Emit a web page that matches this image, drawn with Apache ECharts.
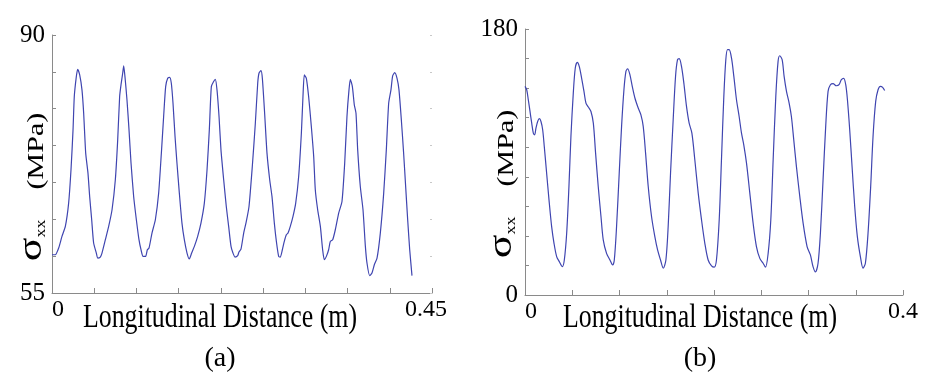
<!DOCTYPE html>
<html>
<head>
<meta charset="utf-8">
<script src="https://cdn.jsdelivr.net/npm/echarts@6/dist/echarts.min.js"></script>
<style>
  html, body { margin: 0; padding: 0; background: #fff; }
  #chart { width: 932px; height: 385px; }
</style>
</head>
<body>
<div id="chart"></div>
<script>
// panel (a): distance (m) and stress (MPa)
const xA = [0, .0039, .0079, .0118, .0158, .0197, .0225, .0249, .0264, .0288, .0304, .0328, .0355, .0375, .0399, .0426, .0446, .0470, .0493, .0525,
  .0541, .0572, .0592, .0632, .0671, .0711, .0750, .0778, .0801, .0817, .0837, .0849, .0864, .0888, .0912, .0936, .0967, .0999, .1030, .1054,
  .1078, .1109, .1129, .1149, .1184, .1224, .1263, .1295, .1322, .1346, .1370, .1393, .1413, .1433, .1457, .1480, .1508, .1539, .1567, .1599,
  .1626, .1654, .1686, .1725, .1764, .1804, .1836, .1863, .1887, .1914, .1934, .1954, .1978, .2001, .2033, .2064, .2092, .2120, .2143, .2167,
  .2199, .2214, .2238, .2270, .2301, .2333, .2372, .2408, .2436, .2451, .2475, .2491, .2518, .2546, .2578, .2605, .2633, .2657, .2684, .2704,
  .2728, .2751, .2775, .2795, .2822, .2854, .2886, .2921, .2953, .2972, .2988, .3012, .3039, .3071, .3099, .3118, .3146, .3178, .3205, .3225,
  .3249, .3276, .3296, .3324, .3355, .3395, .3434, .3466, .3493, .3517, .3533, .3557, .3580, .3600, .3620, .3651, .3683, .3711, .3730, .3762,
  .3789, .3817, .3849, .3888, .3928, .3959, .3987, .4014, .4034, .4058, .4086, .4109, .4137, .4164, .4188, .4212, .4236, .4263];
const yA = [60.19, 60.19, 61.10, 62.68, 64.03, 67.19, 71.71, 77.13, 81.65, 84.35, 85.35, 84.58, 82.55, 79.39, 73.97, 71.26, 68.10, 64.94, 61.78, 60.42,
  59.74, 59.88, 60.42, 62.23, 64.03, 66.29, 70.36, 75.77, 81.65, 83.23, 84.81, 85.80, 84.35, 81.19, 77.13, 72.61, 68.10, 64.94, 62.23, 60.87,
  59.97, 59.97, 60.87, 61.10, 63.13, 64.94, 68.55, 73.97, 78.94, 83.00, 84.13, 84.26, 83.45, 80.74, 76.23, 72.61, 68.55, 64.48, 62.23, 60.42,
  59.61, 60.42, 61.32, 62.68, 64.48, 67.19, 71.71, 77.13, 83.00, 83.68, 83.99, 82.55, 78.94, 74.42, 70.36, 66.74, 64.03, 61.32, 60.42, 59.88,
  60.06, 60.56, 60.96, 63.13, 64.71, 66.74, 72.16, 78.03, 83.45, 84.81, 85.17, 84.13, 79.39, 73.97, 70.36, 68.10, 64.48, 62.00, 59.97, 59.88,
  60.87, 62.00, 62.90, 63.13, 64.03, 65.39, 67.19, 70.81, 76.68, 81.65, 84.58, 84.13, 81.65, 77.58, 73.52, 69.00, 66.29, 64.03, 60.87, 59.52,
  59.97, 60.87, 62.00, 62.23, 63.58, 65.84, 67.42, 72.61, 78.94, 82.55, 83.99, 83.00, 80.52, 79.39, 74.42, 69.45, 66.29, 61.32, 59.07, 57.35,
  57.71, 58.84, 59.74, 63.13, 68.55, 74.42, 80.74, 82.55, 84.45, 84.90, 84.13, 82.55, 78.48, 73.97, 69.45, 64.94, 60.87, 57.35];

// panel (b)
const xB = [0, .0018, .0035, .0053, .0071, .0088, .0102, .0116, .0134, .0152, .0169, .0187, .0204, .0229, .0254, .0282, .0307, .0335, .0363, .0395,
  .0416, .0441, .0465, .0486, .0511, .0532, .0553, .0574, .0599, .0624, .0645, .0670, .0698, .0723, .0747, .0775, .0804, .0828, .0863, .0899,
  .0927, .0945, .0969, .0997, .1022, .1047, .1068, .1086, .1110, .1135, .1163, .1198, .1226, .1251, .1276, .1304, .1339, .1374, .1403, .1434,
  .1463, .1491, .1515, .1540, .1568, .1593, .1614, .1632, .1656, .1681, .1709, .1737, .1766, .1797, .1833, .1868, .1903, .1938, .1974, .2002,
  .2026, .2055, .2079, .2104, .2125, .2143, .2160, .2185, .2210, .2238, .2266, .2291, .2315, .2344, .2379, .2414, .2449, .2485, .2520, .2545,
  .2573, .2601, .2626, .2654, .2678, .2696, .2721, .2742, .2767, .2795, .2819, .2844, .2872, .2908, .2943, .2985, .3020, .3048, .3073, .3101,
  .3126, .3154, .3182, .3207, .3232, .3260, .3295, .3323, .3348, .3373, .3394, .3412, .3436, .3461, .3489, .3517, .3549, .3577, .3602, .3630,
  .3658, .3683, .3711, .3736, .3760, .3782, .3806];
const yB = [141.2, 138.9, 132.1, 124.2, 116.3, 109.5, 108.4, 112.9, 117.4, 119.3, 117.4, 111.8, 100.5, 82.4, 64.4, 46.3, 35.0, 26.0, 22.6, 19.2,
  23.7, 41.8, 73.4, 107.3, 136.6, 153.6, 157.4, 154.7, 146.8, 137.8, 129.9, 127.2, 124.2, 116.3, 96.0, 73.4, 53.1, 37.3, 28.2, 23.7,
  20.3, 23.7, 46.3, 82.4, 114.1, 138.9, 151.3, 153.1, 149.1, 141.2, 133.3, 126.5, 122.0, 114.1, 96.0, 73.4, 53.1, 39.5, 30.5, 23.7,
  18.1, 23.7, 46.3, 82.4, 118.6, 147.9, 159.2, 159.9, 154.7, 143.4, 127.6, 116.3, 109.5, 91.5, 68.9, 50.8, 35.0, 23.7, 19.7, 18.8,
  23.7, 50.8, 91.5, 134.4, 159.2, 166.0, 166.0, 160.4, 147.9, 132.1, 120.8, 109.5, 101.6, 89.2, 68.9, 48.6, 32.8, 24.8, 21.5, 18.8,
  28.2, 50.8, 91.5, 134.4, 158.1, 161.9, 159.2, 147.9, 137.8, 129.9, 120.8, 105.0, 87.0, 66.6, 48.6, 32.8, 27.1, 19.2, 15.6, 21.5,
  41.8, 77.9, 114.1, 137.8, 142.3, 143.0, 141.6, 142.3, 145.7, 146.6, 142.3, 132.1, 111.8, 87.0, 59.9, 39.5, 26.0, 18.1, 21.5, 41.8,
  73.4, 107.3, 131.0, 138.9, 141.2, 140.7, 138.4];

// axis ranges and the only tick labels shown
const yTicksA = [55, 90];
const xTicksA = [0, 0.45];
const yTicksB = [0, 180];
const xTicksB = [0, 0.4];
const panelNames = ['(a)', '(b)'];
const xTitle = 'Longitudinal Distance (m)';

const zip = (xs, ys) => xs.map((x, i) => [x, ys[i]]);
// only first and last tick get text
const edgeLabel = ticks => v => {
  for (const t of ticks) if (Math.abs(v - t) < 1e-6) return String(t);
  return '';
};

const axisGray = '#8a8a8a';
const lineBlue = '#3f45b0';
const serif = 'Liberation Serif';

function xAxisFor(gridIndex, ticks, endPad) {
  return {
    type: 'value', gridIndex,
    min: ticks[0], max: ticks[1], interval: 0.05,
    axisLine: { lineStyle: { color: axisGray, width: 1 } },
    axisTick: { inside: true, length: 5, lineStyle: { color: axisGray } },
    splitLine: { show: false },
    axisLabel: {
      formatter: edgeLabel(ticks), color: '#000', fontFamily: serif, fontSize: 24, margin: 5,
      showMaxLabel: true, alignMinLabel: 'left', padding: [0, endPad, 0, 0]
    }
  };
}

function yAxisFor(gridIndex, ticks, step) {
  return {
    type: 'value', gridIndex,
    min: ticks[0], max: ticks[1], interval: step,
    axisLine: { show: true, lineStyle: { color: axisGray, width: 1 } },
    axisTick: { show: true, inside: true, length: 4, lineStyle: { color: axisGray } },
    splitLine: { show: false },
    axisLabel: { formatter: edgeLabel(ticks), color: '#000', fontFamily: serif, fontSize: 25, margin: 7 }
  };
}

// the picture's lettering is a bit squeezed sideways, hence the scale
const yNameRich = {
  s: { fontSize: 44, fontFamily: serif, fill: '#000', verticalAlign: 'bottom' },
  sub: { fontSize: 18, fontFamily: serif, fill: '#000', verticalAlign: 'bottom' },
  n: { fontSize: 30, fontFamily: serif, fill: '#000', verticalAlign: 'bottom', padding: [0, 0, 0, 30] }
};
function yTitle(cx, cy) {
  return {
    type: 'text', x: cx, y: cy, rotation: Math.PI / 2, scaleY: 0.76,
    style: { text: '{s|σ}{sub|xx}{n|(MPa)}', rich: yNameRich, align: 'center', verticalAlign: 'middle' }
  };
}
function xTitleAt(cx, cy) {
  return {
    type: 'text', x: cx, y: cy, scaleX: 0.76,
    style: { text: xTitle, fontSize: 34, fontFamily: serif, fill: '#000', align: 'center', verticalAlign: 'middle' }
  };
}
function panelTag(cx, cy, t) {
  return {
    type: 'text', x: cx, y: cy,
    style: { text: t, fontSize: 28, fontFamily: serif, fill: '#000', align: 'center', verticalAlign: 'middle' }
  };
}

const chart = echarts.init(document.getElementById('chart'), null, { renderer: 'canvas' });
chart.setOption({
  backgroundColor: '#fff',
  animation: false,
  grid: [
    { left: 52, top: 35, right: 500, bottom: 92, outerBoundsMode: 'none' },
    { left: 525, top: 29, right: 29, bottom: 90, outerBoundsMode: 'none' }
  ],
  xAxis: [xAxisFor(0, xTicksA, 12), xAxisFor(1, xTicksB, 0)],
  yAxis: [
    yAxisFor(0, yTicksA, 5),
    // faint ticks along the right edge of (a)
    {
      type: 'value', gridIndex: 0, position: 'right',
      min: yTicksA[0], max: yTicksA[1], interval: 5,
      axisLine: { show: false },
      axisTick: { show: true, inside: true, length: 2, lineStyle: { color: '#c8c8c8' } },
      axisLabel: { show: false }, splitLine: { show: false }
    },
    yAxisFor(1, yTicksB, 20)
  ],
  graphic: [
    yTitle(32, 187), yTitle(502, 184),
    xTitleAt(220, 318), xTitleAt(700, 318),
    panelTag(220, 359, panelNames[0]), panelTag(700, 359, panelNames[1])
  ],
  series: [
    { type: 'line', xAxisIndex: 0, yAxisIndex: 0, data: zip(xA, yA), showSymbol: false, smooth: 0.2,
      lineStyle: { color: lineBlue, width: 1.2 } },
    { type: 'line', xAxisIndex: 1, yAxisIndex: 2, data: zip(xB, yB), showSymbol: false, smooth: 0.3,
      lineStyle: { color: lineBlue, width: 1.2 } }
  ]
});
</script>
</body>
</html>
